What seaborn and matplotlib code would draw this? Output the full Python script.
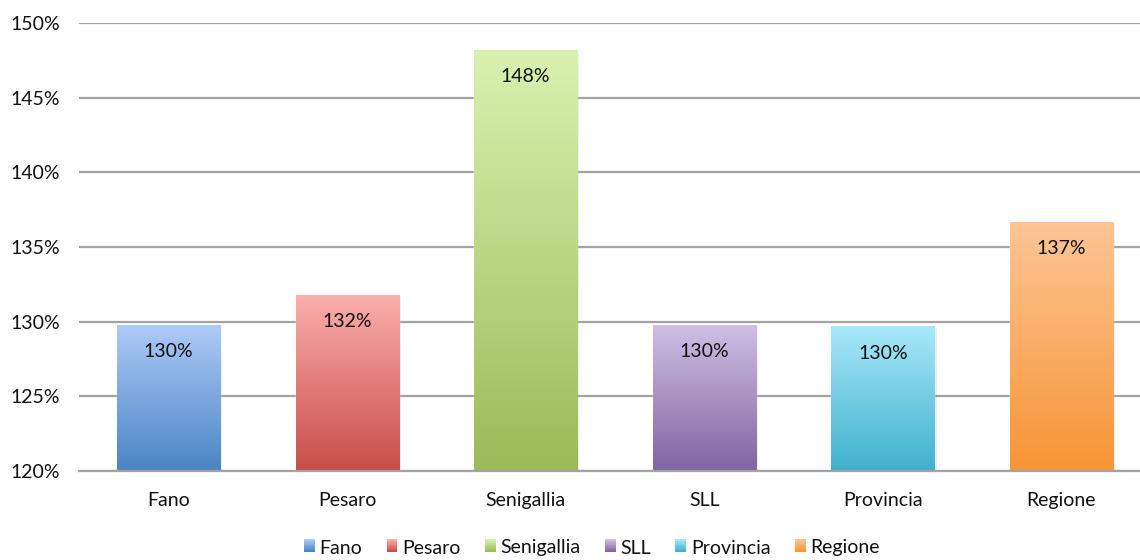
import numpy as np
import pandas as pd
import matplotlib
matplotlib.use("Agg")
import matplotlib.pyplot as plt
import seaborn as sns
from matplotlib.colors import to_rgb
from matplotlib.patches import Rectangle

# Data
categories = ["Fano", "Pesaro", "Senigallia", "SLL", "Provincia", "Regione"]
values = [129.8, 131.8, 148.2, 129.8, 129.7, 136.7]
value_labels = ["130%", "132%", "148%", "130%", "130%", "137%"]
y_ticks = [120, 125, 130, 135, 140, 145, 150]
y_tick_labels = ["120%", "125%", "130%", "135%", "140%", "145%", "150%"]

# Gradient colours (top -> bottom) for each bar
top_colors = ["#aecbf7", "#fbafad", "#d9f2b0", "#cfc0e4", "#a9e8fb", "#fdc595"]
bottom_colors = ["#4a85c5", "#c84d49", "#9cba58", "#8064a2", "#3fb1cc", "#f79536"]

FS = 14

sns.set_theme(style="white")
plt.rcParams["font.family"] = ["Lato", "DejaVu Sans"]

W, H = 1140, 560
fig = plt.figure(figsize=(W / 100, H / 100), dpi=100)
ax = fig.add_axes([79.2 / W, 89 / H, 1071.6 / W, 448 / H])

df = pd.DataFrame({"cat": categories, "val": values})
sns.barplot(data=df, x="cat", y="val", hue="cat", palette=bottom_colors,
            width=0.577, legend=False, ax=ax, saturation=1, zorder=2)
ax.set_xlim(-0.5, len(categories) - 0.5)
ax.set_ylim(y_ticks[0], y_ticks[-1])


def gradient(top, bottom, n=256):
    t = np.linspace(0, 1, n)[:, None]
    a, b = np.array(to_rgb(top)), np.array(to_rgb(bottom))
    return (a[None, :] * (1 - t) + b[None, :] * t)[:, None, :]


for patch, val, lbl, tc, bc in zip(ax.patches, values, value_labels,
                                   top_colors, bottom_colors):
    x, w = patch.get_x(), patch.get_width()
    y0 = y_ticks[0]
    # soft shadow
    ax.add_patch(Rectangle((x + 0.012, y0), w, val - y0 - 0.12,
                           facecolor="#000000", alpha=0.07, lw=0, zorder=1.5))
    img = ax.imshow(gradient(tc, bc), extent=[x, x + w, y0, val],
                    aspect="auto", zorder=2.5, origin="upper",
                    interpolation="bilinear")
    img.set_clip_path(patch)
    ax.annotate(lbl, (x + w / 2, val), xytext=(0, -19.5),
                textcoords="offset points", ha="center", va="center",
                fontsize=FS, color="#111111", zorder=4)

ax.set_yticks(y_ticks)
ax.set_yticklabels(y_tick_labels)
ax.yaxis.grid(True, color="#a3a3a3", lw=1.6)
ax.xaxis.grid(False)
ax.set_axisbelow(True)
for s in ["left", "right", "top"]:
    ax.spines[s].set_visible(False)
ax.spines["bottom"].set_color("#a3a3a3")
ax.spines["bottom"].set_linewidth(1.6)
ax.spines["bottom"].set_zorder(3)
ax.tick_params(axis="y", length=0, pad=14, labelsize=FS, labelcolor="#111111")
ax.tick_params(axis="x", length=0, pad=15, labelsize=FS, labelcolor="#111111")
ax.set_xlabel("")
ax.set_ylabel("")


class GradientHandler:
    def __init__(self, top, bottom, n=16):
        self.top, self.bottom, self.n = top, bottom, n

    def legend_artist(self, legend, orig_handle, fontsize, handlebox):
        x0 = handlebox.xdescent
        w, h = handlebox.width, handlebox.height
        y0 = handlebox.ydescent + 0.12 * fontsize
        a, b = np.array(to_rgb(self.top)), np.array(to_rgb(self.bottom))
        first = None
        for i in range(self.n):
            t = i / (self.n - 1)
            c = b * (1 - t) + a * t
            r = Rectangle((x0, y0 + i * h / self.n), w, h / self.n * 1.05,
                          facecolor=c, lw=0,
                          transform=handlebox.get_transform())
            handlebox.add_artist(r)
            first = first or r
        return first


handles = [Rectangle((0, 0), 1, 1) for _ in categories]
handler_map = {hd: GradientHandler(tc, bc)
               for hd, tc, bc in zip(handles, top_colors, bottom_colors)}
fig.legend(handles, categories, handler_map=handler_map, loc="center",
           bbox_to_anchor=(592 / W, 1 - 548 / H), ncol=6, frameon=False,
           handlelength=0.55, handleheight=0.62, handletextpad=0.25,
           columnspacing=1.25, fontsize=FS, labelcolor="#111111")

fig.savefig("out.png", dpi=100)
